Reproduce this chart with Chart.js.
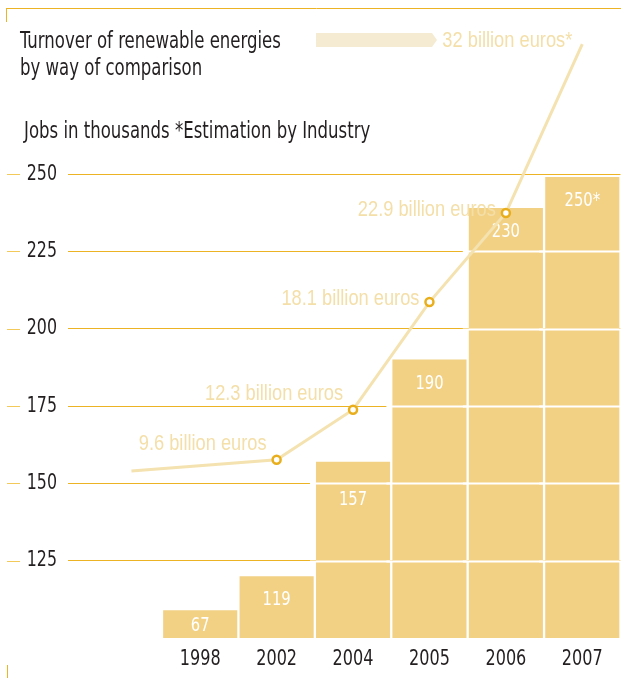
<!DOCTYPE html>
<html>
<head>
<meta charset="utf-8">
<script src="https://cdn.jsdelivr.net/npm/chart.js@4.4.1/dist/chart.umd.min.js"></script>
<style>
  html, body { margin: 0; padding: 0; background: #fff; overflow: hidden; width: 621px; height: 678px; }
  #wrap { position: absolute; left: 0; top: 0; width: 627px; height: 678px; }
  .t { position: absolute; font-family: "DejaVu Sans Condensed", "DejaVu Sans", sans-serif;
       color: #231f20; font-size: 23px; line-height: 27px; white-space: nowrap;
       transform: scaleX(0.8); transform-origin: 0 0; }
</style>
</head>
<body>
<div id="wrap"><canvas id="c"></canvas></div>
<div class="t" style="left:20px;top:27px">Turnover of renewable energies<br>by way of comparison</div>
<div class="t" style="left:24px;top:117px">Jobs in thousands *Estimation by Industry</div>
<script>
// Jobs (bars), heights as drawn on the 100-250 axis, with the printed labels.
const years = ['1998', '2002', '2004', '2005', '2006', '2007'];
const jobLabels = ['67', '119', '157', '190', '230', '250*'];
const barHeights = [109, 120, 157, 190, 239, 249];
const yTicks = [125, 150, 175, 200, 225, 250];

// Turnover line (billion euros). First point is the lead-in of the line, no marker.
const turnoverX = [-0.9, 1, 2, 3, 4, 5];
const turnover = [9.0, 9.6, 12.3, 18.1, 22.9, 32];
const turnoverLabels = ['', '9.6 billion euros', '12.3 billion euros', '18.1 billion euros',
  '22.9 billion euros', '32 billion euros*'];

const FONT = '"DejaVu Sans Condensed", "DejaVu Sans", sans-serif';
const LIGHT_FONT = '"Liberation Sans", Arial, sans-serif';
const GOLD = '#ecb424';
const DARK = '#231f20';

// narrow text: the source face is a condensed DIN, squeeze the local fonts to match
function narrowText(ctx, text, x, y, align, font, color, sx) {
  ctx.save();
  ctx.font = font;
  ctx.fillStyle = color;
  ctx.textAlign = align;
  ctx.textBaseline = 'middle';
  ctx.translate(x, y);
  ctx.scale(sx, 1);
  ctx.fillText(text, 0, 0);
  ctx.restore();
}

const decor = {
  id: 'decor',
  beforeDraw(chart) {
    const ctx = chart.ctx;
    const y = chart.scales.y;
    ctx.save();
    ctx.strokeStyle = GOLD;
    ctx.lineWidth = 1;
    ctx.beginPath();
    ctx.moveTo(6, 8.5); ctx.lineTo(chart.width, 8.5);
    ctx.moveTo(6.5, 8); ctx.lineTo(6.5, 22);
    ctx.moveTo(7.5, 665); ctx.lineTo(7.5, 678);
    ctx.stroke();
    ctx.strokeStyle = '#f3c95a';
    ctx.beginPath();
    y.ticks.forEach(t => {
      const py = Math.round(y.getPixelForValue(t.value)) + 0.5;
      ctx.moveTo(7, py); ctx.lineTo(20, py);
    });
    ctx.stroke();

    // legend arrow for the turnover line
    ctx.fillStyle = '#f5ebd3';
    ctx.beginPath();
    ctx.moveTo(316, 33); ctx.lineTo(432, 33); ctx.lineTo(437, 40);
    ctx.lineTo(432, 47); ctx.lineTo(316, 47); ctx.closePath();
    ctx.fill();
    ctx.restore();
  },
  afterDatasetDraw(chart, args) {
    if (args.index !== 1) return;
    const ctx = chart.ctx;
    const y = chart.scales.y;
    const bottom = chart.chartArea.bottom;
    const gridY = yTicks.map(v => Math.round(y.getPixelForValue(v)) + 0.5);
    ctx.save();
    ctx.strokeStyle = '#fff';
    ctx.lineWidth = 2;
    args.meta.data.forEach((bar, i) => {
      const l = bar.x - bar.width / 2;
      const r = bar.x + bar.width / 2;
      gridY.forEach(py => {
        if (py > bar.y + 2) {
          ctx.beginPath();
          ctx.moveTo(l - 6, py); ctx.lineTo(r + 2, py);
          ctx.stroke();
        }
      });
      // value label near the top, kept off the white lines
      let ly = Math.min(bar.y + 24, (bar.y + bottom) / 2 + 2);
      gridY.forEach(py => { if (Math.abs(ly - py) < 12) ly = py + 16; });
      narrowText(ctx, jobLabels[i], bar.x, ly, 'center', '20px ' + FONT, '#fff', 0.82);
    });
    ctx.restore();
  },
  afterDatasetsDraw(chart) {
    const ctx = chart.ctx;
    const meta = chart.getDatasetMeta(0);
    // the two lower labels sit above the flat part of the line
    const above = [false, true, true, false, false, false];
    meta.data.forEach((pt, i) => {
      if (!turnoverLabels[i]) return;
      narrowText(ctx, turnoverLabels[i], pt.x - 10, pt.y + (above[i] ? -16 : -3),
        'right', '22px ' + LIGHT_FONT, '#f4dfa9', 0.83);
    });

    // axis labels
    const x = chart.scales.x;
    years.forEach((yr, i) => {
      narrowText(ctx, yr, x.getPixelForTick(i), 660, 'center', '21px ' + FONT, DARK, 0.85);
    });
    const y = chart.scales.y;
    y.ticks.forEach(t => {
      narrowText(ctx, String(t.value), 57, y.getPixelForValue(t.value), 'right', '22px ' + FONT, DARK, 0.8);
    });
  }
};

new Chart(document.getElementById('c'), {
  data: {
    labels: years,
    datasets: [
      {
        type: 'line',
        label: 'Turnover',
        xAxisID: 'xl',
        yAxisID: 'y2',
        data: turnoverX.map((x, i) => ({ x: x, y: turnover[i] })),
        borderColor: '#f4e2b0',
        borderWidth: 3,
        tension: 0,
        pointRadius: ctx => (ctx.dataIndex === 0 ? 0 : 4),
        pointBorderWidth: 2.5,
        pointBorderColor: '#e9ae1c',
        pointBackgroundColor: '#fff',
        clip: false,
        order: 0
      },
      {
        type: 'bar',
        label: 'Jobs',
        data: barHeights,
        backgroundColor: '#f2d185',
        categoryPercentage: 0.97,
        barPercentage: 1,
        grouped: false,
        order: 1
      }
    ]
  },
  options: {
    responsive: true,
    maintainAspectRatio: false,
    animation: false,
    layout: { padding: { top: 174, left: 0, right: 0, bottom: 0 } },
    plugins: { legend: { display: false }, tooltip: { enabled: false } },
    scales: {
      x: {
        type: 'category',
        offset: true,
        grid: { display: false, drawTicks: false },
        border: { display: false },
        ticks: { color: 'rgba(0,0,0,0)', font: { family: FONT, size: 21 }, padding: 10 },
        afterFit: s => { s.height = 40; }
      },
      xl: { type: 'linear', display: false, min: -0.5, max: 5.5 },
      y: {
        min: 100,
        max: 250,
        ticks: { stepSize: 25, color: 'rgba(0,0,0,0)', font: { family: FONT, size: 22 }, padding: 10 },
        grid: { color: GOLD, lineWidth: 1, tickLength: 94 },
        border: { display: false },
        afterBuildTicks: s => { s.ticks = s.ticks.filter(t => t.value > 100); },
        afterFit: s => { s.width = 162; }
      },
      y2: { display: false, min: 0, max: 25 }
    }
  },
  plugins: [decor]
});
</script>
</body>
</html>
